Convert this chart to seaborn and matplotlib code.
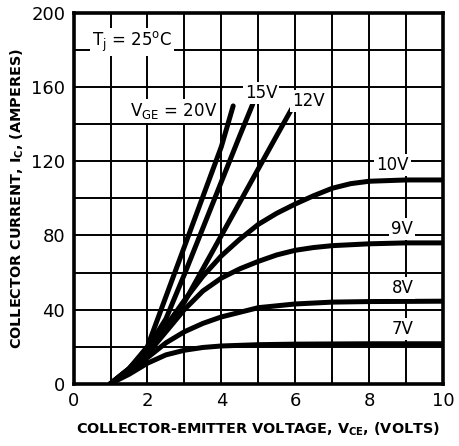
import pandas as pd
import seaborn as sns
import matplotlib
matplotlib.use("Agg")
import matplotlib.pyplot as plt
from matplotlib.ticker import MultipleLocator

# curves (VCE in volts, IC in amperes)
vge_labels = ["20V", "15V", "12V", "10V", "9V", "8V", "7V"]
vce_20 = [1, 1.5, 2, 2.5, 3, 3.5, 4, 4.32]
ic_20 = [0, 8, 20, 47, 74, 101, 128, 150]
vce_15 = [1, 1.5, 2, 2.5, 3, 3.5, 4, 4.5, 4.85]
ic_15 = [0, 8, 19, 35, 59, 84, 109, 134, 151]
vce_12 = [1, 1.5, 2, 2.5, 3, 3.5, 4, 4.5, 5, 5.5, 5.95]
ic_12 = [0, 8, 18, 29, 44, 62, 80, 98, 116, 134, 150]
vce_10 = [1, 1.5, 2, 2.5, 3, 3.5, 4, 4.5, 5, 5.5, 6, 6.5, 7, 7.5, 8, 9, 10]
ic_10 = [0, 7, 17, 31, 45, 58, 69, 78, 86, 92, 97, 101.5, 105.5, 108, 109.3, 110, 110]
vce_9 = [1, 1.5, 2, 2.5, 3, 3.5, 4, 4.5, 5, 5.5, 6, 6.5, 7, 8, 9, 10]
ic_9 = [0, 7, 16, 28, 40, 50, 57, 62, 66, 69.5, 72, 73.5, 74.5, 75.5, 76, 76]
vce_8 = [1, 1.5, 2, 2.5, 3, 3.5, 4, 5, 6, 7, 8, 10]
ic_8 = [0, 6, 14, 22, 28, 32.5, 36, 41, 43, 44, 44.3, 44.5]
vce_7 = [1, 1.5, 2, 2.5, 3, 3.5, 4, 5, 6, 8, 10]
ic_7 = [0, 5, 11, 15.5, 18, 19.5, 20.3, 21, 21.3, 21.5, 21.5]

# label spots next to the curves
label_x = [1.52, 5.07, 6.36, 8.64, 8.9, 8.9, 8.9]
label_y = [147, 157, 152.5, 118, 83.6, 51.5, 29.7]

xs = [vce_20, vce_15, vce_12, vce_10, vce_9, vce_8, vce_7]
ys = [ic_20, ic_15, ic_12, ic_10, ic_9, ic_8, ic_7]
df = pd.concat([pd.DataFrame({"vce": x, "ic": y, "vge": lab})
                for x, y, lab in zip(xs, ys, vge_labels)], ignore_index=True)

sns.set_style("white")
plt.rcParams["font.family"] = ["DejaVu Sans"]
plt.rcParams["mathtext.fontset"] = "dejavusans"
for key in ["text.color", "axes.labelcolor", "xtick.color", "ytick.color"]:
    plt.rcParams[key] = "black"

fig = plt.figure(figsize=(4.6, 4.46), dpi=100)
ax = fig.add_axes([0.160, 0.140, 0.803, 0.830])

sns.lineplot(data=df, x="vce", y="ic", hue="vge", palette={v: "black" for v in vge_labels},
             sort=False, estimator=None, linewidth=3.6, legend=False, ax=ax, zorder=3)

ax.set_xlim(0, 10)
ax.set_ylim(0, 200)
ax.xaxis.set_major_locator(MultipleLocator(2))
ax.xaxis.set_minor_locator(MultipleLocator(1))
ax.yaxis.set_major_locator(MultipleLocator(40))
ax.yaxis.set_minor_locator(MultipleLocator(20))
ax.grid(which="both", color="black", linewidth=1.4)
for s in ax.spines.values():
    s.set_color("black")
    s.set_linewidth(2.6)
ax.tick_params(which="major", direction="in", length=6, width=2.2, labelsize=13, pad=6)
ax.tick_params(which="minor", length=0)

box = dict(facecolor="white", edgecolor="none", pad=1.5)
ax.text(0.5, 184.5, r"T$_\mathregular{j}$ = 25$^\mathregular{o}$C", fontsize=12,
        ha="left", va="center", bbox=box, zorder=4)
ax.text(label_x[0], label_y[0], r"V$_\mathregular{GE}$ = 20V", fontsize=12,
        ha="left", va="center", bbox=box, zorder=4)
for lab, lx, ly in zip(vge_labels[1:], label_x[1:], label_y[1:]):
    ax.text(lx, ly, lab, fontsize=12, ha="center", va="center", bbox=box, zorder=4)

ax.set_xlabel(r"COLLECTOR-EMITTER VOLTAGE, V$_\mathregular{CE}$, (VOLTS)",
              fontsize=10.4, fontweight="bold", labelpad=8)
ax.set_ylabel(r"COLLECTOR CURRENT, I$_\mathregular{C}$, (AMPERES)",
              fontsize=10.4, fontweight="bold", labelpad=4)

fig.savefig("out.png", dpi=100)
